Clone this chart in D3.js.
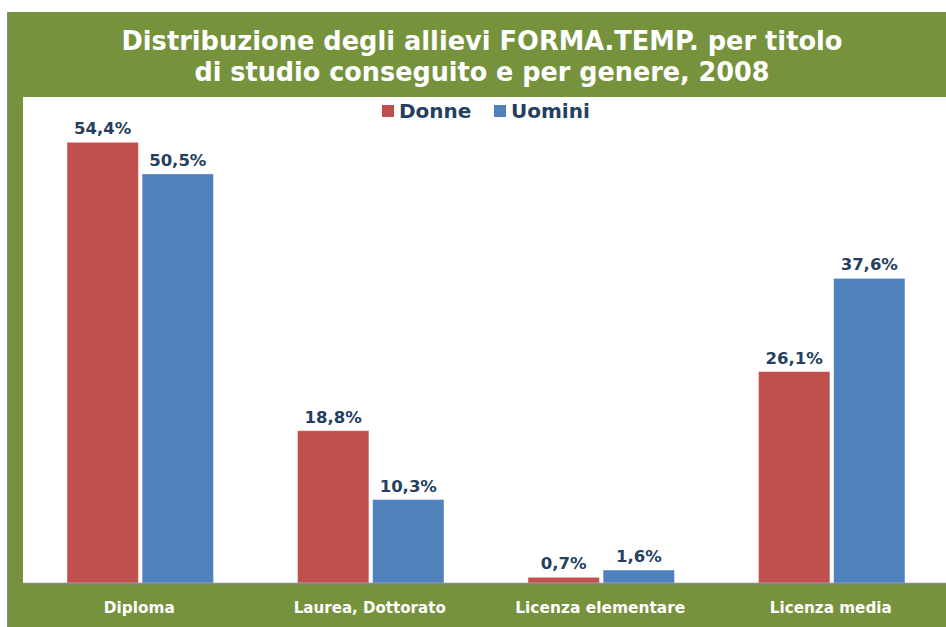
<!DOCTYPE html>
<html>
<head>
<meta charset="utf-8">
<script src="https://cdn.jsdelivr.net/npm/d3@7"></script>
<style>
  body { margin: 0; background: #fff; }
  svg { display: block; }
</style>
</head>
<body>
<script>
// dati
const categories = ["Diploma", "Laurea, Dottorato", "Licenza elementare", "Licenza media"];
const seriesNames = ["Donne", "Uomini"];
const donne = [54.4, 18.8, 0.7, 26.1];
const uomini = [50.5, 10.3, 1.6, 37.6];
const titleLines = ["Distribuzione degli allievi FORMA.TEMP. per titolo", "di studio conseguito e per genere, 2008"];

const W = 946, H = 627;
const green = "#76923C";
const colors = ["#C0504D", "#4F81BD"];
const labelColor = "#243F60";

const svg = d3.select("body").append("svg")
  .attr("width", W)
  .attr("height", H);

// cornice verde
svg.append("rect")
  .attr("x", 7).attr("y", 12)
  .attr("width", W - 7).attr("height", H - 12)
  .attr("fill", green);
svg.append("line")
  .attr("x1", 7.5).attr("x2", 7.5).attr("y1", 12).attr("y2", H)
  .attr("stroke", "#8a8a8a").attr("stroke-width", 1);

// area bianca del grafico
const plot = { left: 23, right: W, top: 97, bottom: 583 };
svg.append("rect")
  .attr("x", plot.left).attr("y", plot.top)
  .attr("width", plot.right - plot.left).attr("height", plot.bottom - plot.top)
  .attr("fill", "#fff");

// titolo
const titleWidths = [721, 575];
svg.selectAll(".title")
  .data(titleLines)
  .enter()
  .append("text")
  .attr("class", "title")
  .attr("x", 482)
  .attr("y", (d, i) => 50 + i * 31)
  .attr("text-anchor", "middle")
  .attr("textLength", (d, i) => titleWidths[i])
  .attr("lengthAdjust", "spacingAndGlyphs")
  .attr("font-family", "'DejaVu Sans', Verdana, sans-serif")
  .attr("font-weight", "bold")
  .attr("font-size", 27)
  .attr("fill", "#fff")
  .text(d => d);

// scale
const x0 = d3.scaleBand()
  .domain(categories)
  .range([plot.left + 2, plot.right + 1])
  .paddingInner(0)
  .paddingOuter(0);

const x1 = d3.scaleBand()
  .domain(seriesNames)
  .range([0, x0.bandwidth()])
  .paddingInner(0.05)
  .paddingOuter(0.56);

const y = d3.scaleLinear()
  .domain([0, 60])
  .range([plot.bottom, plot.top]);

const rows = categories.map((c, i) => ({
  cat: c,
  vals: [
    { name: seriesNames[0], v: donne[i], color: colors[0] },
    { name: seriesNames[1], v: uomini[i], color: colors[1] }
  ]
}));

const groups = svg.selectAll(".group")
  .data(rows)
  .enter()
  .append("g")
  .attr("class", "group")
  .attr("transform", d => "translate(" + x0(d.cat) + ",0)");

groups.selectAll("rect")
  .data(d => d.vals)
  .enter()
  .append("rect")
  .attr("x", d => x1(d.name))
  .attr("y", d => y(d.v))
  .attr("width", x1.bandwidth())
  .attr("height", d => y(0) - y(d.v))
  .attr("fill", d => d.color)
  .attr("stroke", "#fff")
  .attr("stroke-opacity", 0.35)
  .attr("stroke-width", 1);

groups.selectAll(".val")
  .data(d => d.vals)
  .enter()
  .append("text")
  .attr("class", "val")
  .attr("x", d => x1(d.name) + x1.bandwidth() / 2)
  .attr("y", d => y(d.v) - 8)
  .attr("text-anchor", "middle")
  .attr("font-family", "'DejaVu Sans', Verdana, sans-serif")
  .attr("font-weight", "bold")
  .attr("font-size", 16.5)
  .attr("fill", labelColor)
  .text(d => d3.format(".1f")(d.v).replace(".", ",") + "%");

// asse x
svg.append("line")
  .attr("x1", plot.left).attr("x2", plot.right)
  .attr("y1", plot.bottom + 0.5).attr("y2", plot.bottom + 0.5)
  .attr("stroke", "#8a8a8a").attr("stroke-width", 1.5);

const catWidths = [71, 152, 170, 122];
svg.selectAll(".cat")
  .data(categories)
  .enter()
  .append("text")
  .attr("class", "cat")
  .attr("x", d => x0(d) + x0.bandwidth() / 2 - 1)
  .attr("y", 613)
  .attr("text-anchor", "middle")
  .attr("textLength", (d, i) => catWidths[i])
  .attr("lengthAdjust", "spacingAndGlyphs")
  .attr("font-family", "'DejaVu Sans', Verdana, sans-serif")
  .attr("font-weight", "bold")
  .attr("font-size", 16)
  .attr("fill", "#fff")
  .text(d => d);

// legenda
const legendX = [382, 494];
const legend = svg.selectAll(".legend")
  .data(seriesNames)
  .enter()
  .append("g")
  .attr("class", "legend")
  .attr("transform", (d, i) => "translate(" + legendX[i] + ",105)");

legend.append("rect")
  .attr("width", 12).attr("height", 12)
  .attr("fill", (d, i) => colors[i]);

legend.append("text")
  .attr("x", 17)
  .attr("y", 13)
  .attr("font-family", "'DejaVu Sans', Verdana, sans-serif")
  .attr("font-weight", "bold")
  .attr("font-size", 20)
  .attr("fill", labelColor)
  .text(d => d);
</script>
</body>
</html>
